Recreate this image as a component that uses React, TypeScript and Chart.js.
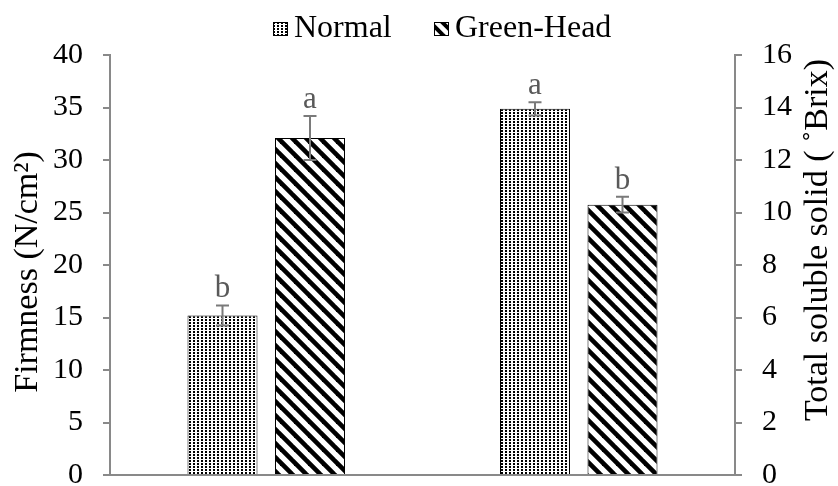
import React, { useEffect, useRef } from "react";
import { Chart, registerables } from "chart.js";

Chart.register(...registerables);

const groups = ["Firmness", "Total soluble solid"];
const seriesNames = ["Normal", "Green-Head"];
const firmnessValues = [15.2, 32.1];
const firmnessErrors = [0.95, 2.1];
const firmnessLetters = ["b", "a"];
const tssValues = [13.95, 10.3];
const tssErrors = [0.25, 0.3];
const tssLetters = ["a", "b"];
const firmnessAxis = { min: 0, max: 40, step: 5 };
const tssAxis = { min: 0, max: 16, step: 2 };
const leftTitle = "Firmness (N/cm²)";
const rightTitle = "Total soluble solid ( ˚Brix)";

const FONT = "'Liberation Serif', 'Times New Roman', serif";
const AXIS = "#898989";

function dotPattern(ctx: CanvasRenderingContext2D) {
  const c = document.createElement("canvas");
  c.width = 4;
  c.height = 3;
  const g = c.getContext("2d")!;
  g.fillStyle = "#fff";
  g.fillRect(0, 0, 4, 3);
  g.fillStyle = "#000";
  g.fillRect(1, 1, 2, 2);
  return ctx.createPattern(c, "repeat")!;
}

function stripePattern(ctx: CanvasRenderingContext2D, size: number, lw: number) {
  const c = document.createElement("canvas");
  c.width = size;
  c.height = size;
  const g = c.getContext("2d")!;
  g.fillStyle = "#fff";
  g.fillRect(0, 0, size, size);
  g.strokeStyle = "#000";
  g.lineWidth = lw;
  for (const o of [-size, 0, size]) {
    g.beginPath();
    g.moveTo(o - 2, -2);
    g.lineTo(o + size + 2, size + 2);
    g.stroke();
  }
  return ctx.createPattern(c, "repeat")!;
}

export default function App() {
  const ref = useRef<HTMLCanvasElement>(null);

  useEffect(() => {
    const canvas = ref.current!;
    const ctx = canvas.getContext("2d")!;
    const dots = dotPattern(ctx);
    const stripes = stripePattern(ctx, 14, 4.6);
    const smallStripes = stripePattern(ctx, 12, 4);
    const fills = [dots, stripes];

    const datasets: any[] = [];
    seriesNames.forEach((name, s) => {
      datasets.push({
        label: name,
        data: [firmnessValues[s], null],
        yAxisID: "y",
        backgroundColor: fills[s],
        borderColor: "#000",
        borderWidth: 1,
        errors: [firmnessErrors[s], null],
        letters: [firmnessLetters[s], null],
      });
    });
    seriesNames.forEach((name, s) => {
      datasets.push({
        label: name,
        data: [null, tssValues[s]],
        yAxisID: "y1",
        backgroundColor: fills[s],
        borderColor: "#000",
        borderWidth: 1,
        errors: [null, tssErrors[s]],
        letters: [null, tssLetters[s]],
      });
    });

    const extras = {
      id: "extras",
      afterDatasetsDraw(chart: any) {
        const c = chart.ctx;
        chart.data.datasets.forEach((ds: any, i: number) => {
          const meta = chart.getDatasetMeta(i);
          const scale = chart.scales[ds.yAxisID];
          meta.data.forEach((el: any, j: number) => {
            const v = ds.data[j];
            if (v == null) return;
            const e = ds.errors[j];
            const top = scale.getPixelForValue(v + e);
            const bot = scale.getPixelForValue(v - e);
            c.save();
            c.strokeStyle = "#7a7a7a";
            c.lineWidth = 2;
            c.beginPath();
            c.moveTo(el.x, top);
            c.lineTo(el.x, bot);
            c.moveTo(el.x - 6.5, top);
            c.lineTo(el.x + 6.5, top);
            c.moveTo(el.x - 6.5, bot);
            c.lineTo(el.x + 6.5, bot);
            c.stroke();
            c.fillStyle = "#595959";
            c.font = `31px ${FONT}`;
            c.textAlign = "center";
            c.textBaseline = "alphabetic";
            c.fillText(ds.letters[j], el.x, top - 8);
            c.restore();
          });
        });
      },
      afterDraw(chart: any) {
        const c = chart.ctx;
        c.save();
        c.fillStyle = "#000";
        c.font = `34px ${FONT}`;
        c.textBaseline = "middle";
        c.textAlign = "center";
        c.save();
        c.translate(28, 272);
        c.rotate(-Math.PI / 2);
        c.fillText(leftTitle, 0, 0);
        c.restore();
        c.save();
        c.translate(818, 240);
        c.rotate(-Math.PI / 2);
        c.fillText(rightTitle, 0, 0);
        c.restore();
        // legend
        c.font = `32px ${FONT}`;
        const items = [
          { x: 273, fill: dots, text: seriesNames[0] },
          { x: 434, fill: smallStripes, text: seriesNames[1] },
        ];
        items.forEach((it) => {
          c.fillStyle = it.fill;
          c.fillRect(it.x, 22, 15, 14);
          c.strokeStyle = "#000";
          c.lineWidth = 1;
          c.strokeRect(it.x + 0.5, 22.5, 14, 13);
          c.fillStyle = "#000";
          c.textAlign = "left";
          c.textBaseline = "middle";
          c.fillText(it.text, it.x + 21, 29);
        });
        c.restore();
      },
    };

    const chart = new Chart(canvas, {
      type: "bar",
      data: { labels: groups, datasets },
      options: {
        animation: false,
        responsive: false,
        maintainAspectRatio: false,
        layout: { padding: { top: 55, bottom: 11, left: 0, right: 0 } },
        datasets: { bar: { skipNull: true, categoryPercentage: 0.56, barPercentage: 0.8 } as any },
        plugins: { legend: { display: false }, tooltip: { enabled: false }, title: { display: false } },
        scales: {
          x: {
            type: "category",
            ticks: { display: false },
            grid: { display: false, drawTicks: false },
            border: { display: true, color: AXIS, width: 2 },
            afterFit: (s: any) => {
              s.height = 0;
            },
          },
          y: {
            position: "left",
            min: firmnessAxis.min,
            max: firmnessAxis.max,
            ticks: { stepSize: firmnessAxis.step, color: "#000", font: { family: FONT, size: 30 }, padding: 20 },
            grid: { drawOnChartArea: false, drawTicks: true, tickLength: 7, color: AXIS, lineWidth: 2 },
            border: { display: true, color: AXIS, width: 2 },
            afterFit: (s: any) => {
              s.width = 110;
              s.paddingTop = 0;
              s.paddingBottom = 0;
            },
          },
          y1: {
            position: "right",
            min: tssAxis.min,
            max: tssAxis.max,
            ticks: { stepSize: tssAxis.step, color: "#000", font: { family: FONT, size: 30 }, padding: 20 },
            grid: { drawOnChartArea: false, drawTicks: true, tickLength: 7, color: AXIS, lineWidth: 2 },
            border: { display: true, color: AXIS, width: 2 },
            afterFit: (s: any) => {
              s.width = 103;
              s.paddingTop = 0;
              s.paddingBottom = 0;
            },
          },
        },
      },
      plugins: [extras],
    });
    return () => chart.destroy();
  }, []);

  return (
    <div style={{ position: "fixed", left: 0, top: 0, width: 838, height: 486, background: "#fff" }}>
      <canvas ref={ref} width={838} height={486} style={{ width: 838, height: 486, display: "block" }} />
    </div>
  );
}
